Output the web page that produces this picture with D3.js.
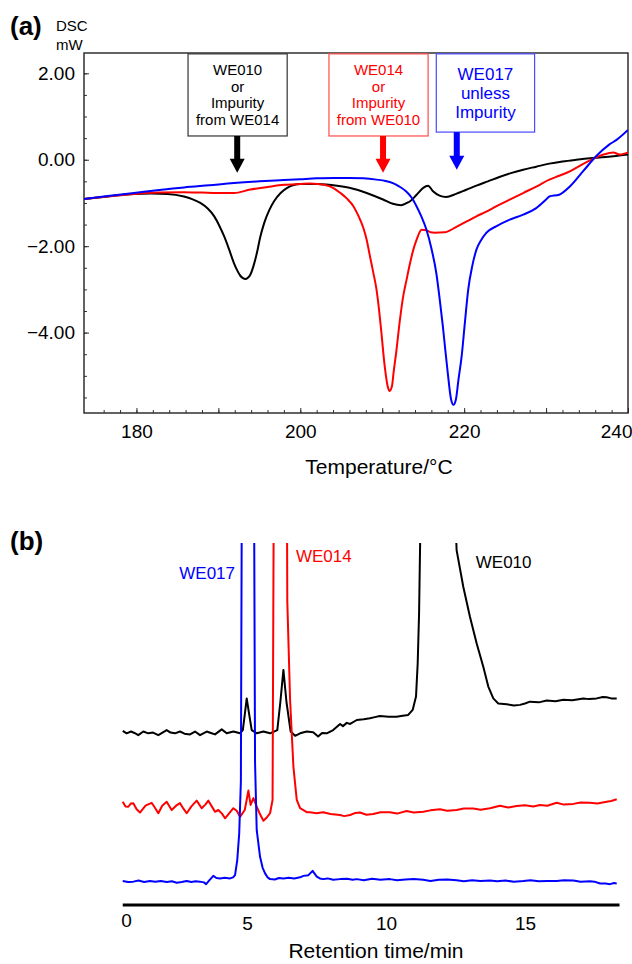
<!DOCTYPE html>
<html>
<head>
<meta charset="utf-8">
<script src="https://cdn.jsdelivr.net/npm/d3@7"></script>
<style>
  body { margin: 0; background: #fff; }
  svg { display: block; font-family: "Liberation Sans", Arial, Helvetica, sans-serif; }
</style>
</head>
<body>
<div id="chart"></div>
<script>
// ---- (a) DSC curves: [temperature °C, heat flow mW]
const dscWE010 = [[173.6,-0.91],[176.5,-0.85],[179.7,-0.79],[181.8,-0.78],[183.8,-0.79],[185.8,-0.85],[186.8,-0.91],[187.8,-1.0],[188.7,-1.13],[189.5,-1.31],[190.1,-1.52],[190.7,-1.77],[191.3,-2.07],[191.9,-2.39],[192.3,-2.56],[192.7,-2.69],[193.0,-2.74],[193.3,-2.76],[193.6,-2.73],[193.9,-2.66],[194.3,-2.45],[194.7,-2.16],[195.1,-1.8],[195.6,-1.46],[196.2,-1.17],[196.8,-0.96],[197.6,-0.77],[198.4,-0.65],[200,-0.56],[202.1,-0.56],[204.5,-0.6],[206,-0.65],[208.1,-0.77],[210.1,-0.92],[211.3,-1.02],[212.3,-1.05],[213.0,-1.0],[213.4,-0.96],[214.2,-0.81],[215,-0.65],[215.6,-0.6],[216.2,-0.73],[217,-0.83],[217.8,-0.86],[219,-0.79],[220.2,-0.7],[221.5,-0.6],[222.9,-0.5],[224.3,-0.4],[225.7,-0.31],[227.2,-0.23],[228.8,-0.16],[230.4,-0.09],[232,-0.04],[233.7,0.0],[235.7,0.04],[238.2,0.08],[240,0.12]];
const dscWE014 = [[173.6,-0.91],[176.5,-0.85],[179.7,-0.79],[182.8,-0.76],[185.8,-0.75],[188,-0.76],[189.9,-0.77],[191.9,-0.77],[193.9,-0.69],[196,-0.63],[198,-0.58],[200,-0.56],[201.2,-0.55],[202.1,-0.56],[202.9,-0.58],[204,-0.65],[204.9,-0.77],[205.7,-0.9],[206.5,-1.08],[207.1,-1.3],[207.7,-1.58],[208.1,-1.85],[208.5,-2.23],[208.9,-2.6],[209.3,-3.0],[209.6,-3.45],[209.9,-4.0],[210.3,-4.77],[210.7,-5.27],[210.9,-5.35],[211.2,-5.23],[211.4,-4.9],[211.7,-4.47],[212.1,-3.8],[212.5,-3.23],[213.0,-2.75],[213.4,-2.39],[213.8,-2.08],[214.2,-1.85],[214.8,-1.62],[215.4,-1.63],[215.9,-1.68],[216.4,-1.69],[217.6,-1.68],[219.0,-1.56],[220.2,-1.44],[221.5,-1.31],[222.7,-1.2],[223.9,-1.08],[225.5,-0.93],[227.2,-0.77],[228.8,-0.62],[230.4,-0.46],[231.6,-0.37],[232.9,-0.27],[234.1,-0.14],[235.3,-0.02],[236.2,0.06],[237,0.12],[238.2,0.17],[239,0.12],[240,0.17]];
const dscWE017 = [[173.6,-0.91],[176.5,-0.84],[179.7,-0.77],[182.8,-0.70],[185.8,-0.64],[188.9,-0.59],[191.9,-0.54],[195,-0.50],[198,-0.47],[200,-0.45],[202,-0.43],[204.1,-0.42],[206,-0.42],[207.7,-0.43],[209.3,-0.46],[210.4,-0.49],[211.3,-0.54],[212.1,-0.62],[212.9,-0.73],[213.6,-0.88],[214.2,-1.08],[214.8,-1.32],[215.4,-1.62],[216.0,-2.05],[216.6,-2.62],[217.0,-3.2],[217.4,-3.85],[217.7,-4.4],[218.0,-4.93],[218.4,-5.54],[218.7,-5.67],[219.0,-5.54],[219.3,-5.1],[219.7,-4.54],[220.1,-3.75],[220.5,-3.0],[221.0,-2.45],[221.5,-2.08],[222.1,-1.85],[222.7,-1.69],[223.9,-1.54],[225.5,-1.39],[227.2,-1.27],[228.8,-1.12],[230.0,-0.92],[230.4,-0.85],[231.6,-0.81],[232.9,-0.62],[234.5,-0.27],[236.1,0.08],[237.7,0.35],[238.6,0.46],[240,0.69]];

const tempTicks = [180, 200, 220, 240];
const mwTicks = [2, 0, -2, -4];

// annotation boxes: box edges in °C / mW, arrow at temperature T
const notes = [
  { lines: ["WE010", "or", "Impurity", "from WE014"], color: "#000", stroke: "#333", x0: 186.3, x1: 198.4, top: 2.45, bottom: 0.55, T: 192.3, tip: -0.3, size: 15 },
  { lines: ["WE014", "or", "Impurity", "from WE010"], color: "#ff0000", stroke: "#ff4a4a", x0: 203.5, x1: 215.6, top: 2.45, bottom: 0.55, T: 210.1, tip: -0.3, size: 15 },
  { lines: ["WE017", "unless", "Impurity"], color: "#0000ff", stroke: "#4a4aff", x0: 216.6, x1: 228.6, top: 2.45, bottom: 0.64, T: 219.1, tip: -0.23, size: 17 }
];

// ---- (b) HPLC chromatograms: [retention time min, signal (offset traces)]
const lcWE010 = [[0.53,47.0],[0.67,46.3],[0.83,46.8],[0.95,46.4],[1.09,45.8],[1.27,46.8],[1.45,46.3],[1.62,46.5],[1.81,45.8],[2.11,47.2],[2.25,46.5],[2.41,46.3],[2.59,46.8],[2.75,46.2],[2.95,46.0],[3.13,46.8],[3.31,45.8],[3.55,46.8],[3.7,46.4],[3.85,46.0],[4.09,47.4],[4.27,46.3],[4.51,46.8],[4.75,46.3],[4.85,47.2],[4.92,51.5],[4.99,56.0],[5.07,52.0],[5.17,47.2],[5.35,46.3],[5.59,46.8],[5.83,46.3],[6.09,47.2],[6.2,55.0],[6.31,63.9],[6.42,55.0],[6.57,46.8],[6.73,45.6],[6.91,46.3],[7.15,46.8],[7.38,46.6],[7.56,45.4],[7.7,46.4],[7.87,46.3],[8.10,47.2],[8.35,48.9],[8.45,48.3],[8.59,49.2],[8.71,48.9],[8.95,50.0],[9.2,50.2],[9.42,50.5],[9.6,50.8],[9.78,51.1],[10.1,50.9],[10.38,50.9],[10.6,51.2],[10.80,51.4],[10.96,52.8],[11.08,56.5],[11.14,65.7],[11.19,79.6],[11.62,300],[12.54,97.2],[12.78,87.0],[13.02,78.7],[13.26,71.3],[13.50,64.8],[13.68,59.3],[13.86,56.0],[14.04,54.6],[14.34,54.4],[14.6,54.0],[14.82,54.2],[15.0,54.6],[15.18,55.1],[15.5,54.9],[15.78,55.4],[16.1,55.2],[16.38,55.6],[16.7,55.5],[17.10,56.0],[17.3,55.8],[17.58,56.0],[17.8,56.4],[17.94,56.3],[18.1,56.0],[18.3,56.0]];
const lcWE014 = [[0.53,27.3],[0.63,26.0],[0.73,25.9],[0.82,26.8],[0.91,26.9],[1.03,25.2],[1.15,24.3],[1.35,26.2],[1.57,27.0],[1.7,25.5],[1.81,24.1],[1.95,26.2],[2.11,27.3],[2.29,25.0],[2.45,26.2],[2.59,26.9],[2.72,25.3],[2.83,24.1],[3.0,26.0],[3.19,27.6],[3.37,25.5],[3.5,26.5],[3.61,27.6],[3.75,25.8],[3.85,24.5],[3.97,25.0],[4.1,24.0],[4.21,22.7],[4.35,24.0],[4.51,25.5],[4.63,24.8],[4.75,23.1],[4.92,25.0],[5.05,30.4],[5.13,26.4],[5.23,28.3],[5.35,25.9],[5.47,23.8],[5.59,22.0],[5.72,23.0],[5.83,24.1],[5.92,27.8],[6.21,600],[6.45,83],[6.55,55.6],[6.67,37.0],[6.79,27.8],[6.91,25.5],[7.15,24.4],[7.27,24.4],[7.5,24.1],[7.74,24.4],[8.0,23.9],[8.35,23.6],[8.5,23.3],[8.71,23.6],[8.9,24.2],[9.06,24.3],[9.3,23.7],[9.54,23.9],[9.8,24.4],[10.14,24.4],[10.4,24.0],[10.74,24.7],[11.0,24.3],[11.34,24.5],[11.6,24.9],[11.94,25.2],[12.2,24.8],[12.54,25.0],[12.8,25.4],[13.14,25.4],[13.4,25.1],[13.74,25.5],[14.1,26.2],[14.4,25.7],[14.7,26.1],[15.0,26.3],[15.3,26.0],[15.54,26.4],[15.8,26.2],[16.14,27.0],[16.4,26.5],[16.74,26.7],[17.0,27.1],[17.34,27.0],[17.6,26.8],[17.94,27.3],[18.1,27.5],[18.3,28.0]];
const lcWE017 = [[0.53,5.3],[0.72,5.0],[0.91,5.1],[1.1,5.4],[1.3,5.0],[1.51,5.3],[1.7,5.1],[1.9,5.3],[2.11,5.0],[2.3,5.2],[2.47,4.8],[2.65,5.0],[2.83,5.3],[3.0,5.0],[3.15,5.2],[3.31,5.1],[3.45,4.9],[3.53,4.4],[3.65,5.5],[3.79,6.7],[3.9,6.1],[4.03,6.0],[4.2,6.2],[4.39,6.0],[4.5,6.3],[4.57,6.9],[4.65,11.1],[4.72,18.5],[4.78,33],[5.02,600],[5.29,38],[5.35,19.4],[5.47,12.0],[5.56,9.0],[5.65,7.4],[5.74,6.3],[5.83,5.8],[6.0,5.7],[6.15,6.1],[6.31,6.0],[6.5,6.2],[6.7,6.0],[6.91,6.3],[7.03,6.7],[7.21,6.9],[7.36,8.1],[7.51,6.5],[7.62,6.0],[7.74,5.8],[7.9,6.0],[8.1,5.6],[8.35,5.8],[8.6,5.9],[8.8,5.6],[8.95,5.8],[9.2,5.5],[9.5,5.9],[9.8,5.6],[10.14,5.8],[10.4,5.5],[10.7,5.7],[11.0,5.8],[11.34,5.6],[11.6,5.3],[11.9,5.6],[12.2,5.7],[12.54,5.5],[12.8,5.2],[13.1,5.5],[13.4,5.3],[13.74,5.4],[14.0,5.2],[14.3,5.4],[14.6,5.1],[14.94,5.3],[15.2,5.5],[15.5,5.2],[15.8,5.3],[16.14,5.3],[16.4,5.5],[16.74,5.4],[17.0,5.1],[17.34,5.2],[17.5,5.1],[17.7,4.6],[17.9,4.6],[18.06,4.4],[18.2,4.7],[18.3,4.6]];

const timeTicks = [0, 5, 10, 15];
// trace labels: [text, colour, time, signal, anchor]
const lcLabels = [["WE017", "#0000ff", 4.57, 89.2, "end"], ["WE014", "#ff0000", 6.76, 93.9, "start"], ["WE010", "#000", 13.23, 92.2, "start"]];

const W = 632, H = 964;
const svg = d3.select("#chart").append("svg").attr("width", W).attr("height", H);

// ================= panel (a) =================
const xA = d3.scaleLinear().domain([173.6, 240]).range([84, 628]);
const yA = d3.scaleLinear().domain([-5.86, 2.47]).range([413, 53]);

svg.append("text").attr("x", 10).attr("y", 35).attr("font-size", 26).attr("font-weight", "bold").text("(a)");
svg.append("text").attr("x", 56).attr("y", 31).attr("font-size", 15).text("DSC");
svg.append("text").attr("x", 56).attr("y", 50).attr("font-size", 15).text("mW");

// minor / major ticks pointing inward
const gxA = svg.append("g").attr("transform", `translate(0,${yA.range()[0]})`);
gxA.call(d3.axisBottom(xA).tickValues(d3.range(176, 240, 2)).tickSizeInner(-3).tickSizeOuter(0).tickFormat(""));
gxA.append("g").call(d3.axisBottom(xA).tickValues(d3.range(180, 241, 10)).tickSizeInner(-5).tickSizeOuter(0).tickFormat(""));
gxA.append("g").call(d3.axisBottom(xA).tickValues(tempTicks).tickSize(0).tickPadding(12).tickFormat(d3.format("d")));
gxA.selectAll(".domain").remove();
gxA.selectAll("text").attr("font-size", 19).attr("font-family", null).attr("fill", "#000")
  .attr("text-anchor", d => d === 240 ? "end" : "middle").attr("dx", d => d === 240 ? 4 : 0);
gxA.selectAll("line").attr("stroke", "#333");

const gyA = svg.append("g").attr("transform", `translate(${xA.range()[0]},0)`);
gyA.call(d3.axisLeft(yA).tickValues(d3.range(-5.5, 2.4, 0.5)).tickSizeInner(-3).tickSizeOuter(0).tickFormat(""));
gyA.append("g").call(d3.axisLeft(yA).tickValues(mwTicks).tickSizeInner(-5).tickSizeOuter(0).tickPadding(9).tickFormat(d3.format(".2f")));
gyA.selectAll(".domain").remove();
gyA.selectAll("text").attr("font-size", 19).attr("font-family", null).attr("fill", "#000");
gyA.selectAll("line").attr("stroke", "#333");

svg.append("rect")
  .attr("x", xA.range()[0]).attr("y", yA.range()[1])
  .attr("width", xA.range()[1] - xA.range()[0]).attr("height", yA.range()[0] - yA.range()[1])
  .attr("fill", "none").attr("stroke", "#222").attr("stroke-width", 1.4);

svg.append("defs").append("clipPath").attr("id", "clipA").append("rect")
  .attr("x", 84).attr("y", 53).attr("width", 544).attr("height", 360);

const lineA = d3.line().x(d => xA(d[0])).y(d => yA(d[1])).curve(d3.curveMonotoneX);
const dscSeries = [[dscWE010, "#000"], [dscWE014, "#ff0000"], [dscWE017, "#0000ff"]];
svg.append("g").attr("clip-path", "url(#clipA)")
  .selectAll("path").data(dscSeries).join("path")
  .attr("fill", "none").attr("stroke", d => d[1]).attr("stroke-width", 2)
  .attr("d", d => lineA(d[0]));

// annotation boxes + arrows
notes.forEach(n => {
  const g = svg.append("g");
  const bx = xA(n.x0), bw = xA(n.x1) - xA(n.x0), by = yA(n.top), bh = yA(n.bottom) - yA(n.top);
  g.append("rect").attr("x", bx).attr("y", by).attr("width", bw).attr("height", bh)
    .attr("fill", "#fff").attr("stroke", n.stroke).attr("stroke-width", 1.2);
  const lh = n.size * 1.1;
  const y0 = by + bh / 2 - (n.lines.length - 1) * lh / 2;
  n.lines.forEach((t, i) => {
    g.append("text").attr("x", bx + bw / 2).attr("y", y0 + i * lh).attr("dy", "0.35em")
      .attr("text-anchor", "middle").attr("font-size", n.size).attr("fill", n.color).text(t);
  });
  const ax = xA(n.T), ay0 = yA(n.bottom), tip = yA(n.tip), head = 14;
  g.append("rect").attr("x", ax - 3).attr("y", ay0).attr("width", 6).attr("height", tip - head - ay0 + 1).attr("fill", n.color);
  g.append("path").attr("d", `M${ax - 7.5},${tip - head}L${ax + 7.5},${tip - head}L${ax},${tip}Z`).attr("fill", n.color);
});

svg.append("text").attr("x", 379).attr("y", 474).attr("text-anchor", "middle").attr("font-size", 21).text("Temperature/°C");

// ================= panel (b) =================
const xB = d3.scaleLinear().domain([0, 18.4]).range([108, 619.5]);
const yB = d3.scaleLinear().domain([0, 100]).range([900, 540]);

svg.append("text").attr("x", 10).attr("y", 550).attr("font-size", 26).attr("font-weight", "bold").text("(b)");

svg.select("defs").append("clipPath").attr("id", "clipB").append("rect")
  .attr("x", 0).attr("y", 543).attr("width", W).attr("height", 360);

const lineB = d3.line().x(d => xB(d[0])).y(d => yB(d[1]));
const lcSeries = [[lcWE010, "#000"], [lcWE014, "#ff0000"], [lcWE017, "#0000ff"]];
svg.append("g").attr("clip-path", "url(#clipB)")
  .selectAll("path").data(lcSeries).join("path")
  .attr("fill", "none").attr("stroke", d => d[1]).attr("stroke-width", 2).attr("stroke-linejoin", "round")
  .attr("d", d => lineB(d[0]));

svg.selectAll(".lclab").data(lcLabels).join("text").attr("class", "lclab")
  .attr("x", d => xB(d[2])).attr("y", d => yB(d[3])).attr("text-anchor", d => d[4])
  .attr("font-size", 17).attr("fill", d => d[1]).text(d => d[0]);

const gxB = svg.append("g").attr("transform", "translate(0,905)");
gxB.call(d3.axisBottom(xB).tickValues(timeTicks).tickSize(0).tickPadding(12));
gxB.select(".domain").remove();
gxB.append("line").attr("x1", xB(lcWE017[0][0])).attr("x2", xB.range()[1]).attr("stroke", "#000").attr("stroke-width", 3);
// the "0" sits at the start of the drawn axis line
gxB.selectAll("text").attr("font-size", 19).attr("font-family", null).attr("fill", "#000")
  .attr("dx", d => d === 0 ? 18 : 0).attr("dy", d => d === 0 ? "0.55em" : "0.71em");

svg.append("text").attr("x", 376).attr("y", 958).attr("text-anchor", "middle").attr("font-size", 21).text("Retention time/min");
</script>
</body>
</html>
